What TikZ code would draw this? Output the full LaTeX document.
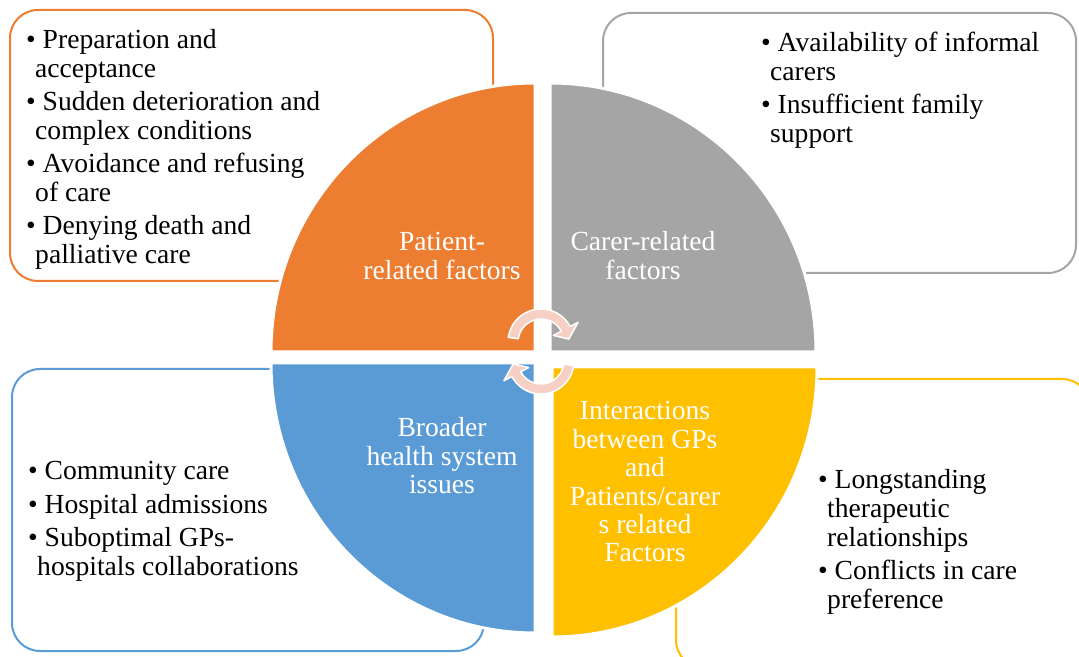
\documentclass[tikz,border=0pt]{standalone}
\usepackage{fontspec}
\setmainfont{Liberation Serif}

\definecolor{cOrange}{HTML}{ED7D31}
\definecolor{cGray}{HTML}{A5A5A5}
\definecolor{cBlue}{HTML}{5B9BD5}
\definecolor{cYellow}{HTML}{FFC000}
\definecolor{cArrow}{HTML}{F6D0C4}

% bullet hanging to the left of the list margin
\newcommand{\itembullet}{\hspace*{-9pt}\textbullet\ }

\tikzset{
  infobox/.style={line width=2pt, rounded corners=28pt},
  quarter/.style={draw=white, line width=3pt},
  cyclearrow/.style={fill=cArrow, draw=white, line width=1.5pt, line join=round},
  lbl/.style={anchor=base, inner sep=0pt, text=white,
              font=\fontsize{27.6}{28.4}\selectfont},
  lst/.style={anchor=base west, inner sep=0pt, text=black,
              font=\fontsize{27.6}{29}\selectfont}
}

\begin{document}
\begin{tikzpicture}[x=1pt, y=1pt]
\useasboundingbox (0,0) rectangle (1079,656);
\clip (0,0) rectangle (1079,656);

% outlined boxes behind the quarters
\draw[infobox, draw=cOrange] (10,375) rectangle (493,646);
\draw[infobox, draw=cGray]   (603,383) rectangle (1076,643);
\draw[infobox, draw=cBlue]   (12,5) rectangle (484,287);
\draw[infobox, draw=cYellow] (676,-12) rectangle (1090,277);

% the four quarter discs
\filldraw[quarter, fill=cOrange] (535,304) -- (271,304)
  arc[start angle=180, end angle=90, x radius=264pt, y radius=269pt] -- cycle;
\filldraw[quarter, fill=cGray] (550,304) -- (550,573)
  arc[start angle=90, end angle=0, x radius=266pt, y radius=269pt] -- cycle;
\filldraw[quarter, fill=cBlue] (535,293) -- (271,293)
  arc[start angle=180, end angle=270, x radius=264pt, y radius=270pt] -- cycle;
\filldraw[quarter, fill=cYellow] (552,289) -- (817,289)
  arc[start angle=0, end angle=-90, x radius=265pt, y radius=270pt] -- cycle;

% circular arrows in the middle
\begin{scope}[shift={(541,314)}]
  \filldraw[cyclearrow] (172:33pt)
    arc[start angle=172, end angle=28, radius=33pt] -- (28:42pt) -- (6:28pt)
    -- (28:14pt) -- (28:23pt)
    arc[start angle=28, end angle=172, radius=23pt] -- cycle;
\end{scope}
\begin{scope}[shift={(541,295)}]
  \filldraw[cyclearrow] (-8:33pt)
    arc[start angle=-8, end angle=-152, radius=33pt] -- (-152:42pt) -- (-174:28pt)
    -- (-152:14pt) -- (-152:23pt)
    arc[start angle=-152, end angle=-8, radius=23pt] -- cycle;
\end{scope}

% quarter labels
\node[lbl] (patient) at (442,405) {\parbox[t]{240pt}{\centering Patient-\\related factors}};
\node[lbl] (carer) at (643,405) {\parbox[t]{240pt}{\centering Carer-related\\factors}};
\node[lbl] (health) at (442,219) {\parbox[t]{240pt}{\centering Broader\\health system\\issues}};
\node[lbl] (interact) at (645,236) {\parbox[t]{240pt}{\centering Interactions\\between GPs\\and\\Patients/carer\\s related\\Factors}};

% bullet lists
\node[lst] (patlist) at (35,607) {\parbox[t]{440pt}{\raggedright
  \itembullet Preparation and\\ acceptance\\[4pt]
  \itembullet Sudden deterioration and\\ complex conditions\\[4pt]
  \itembullet Avoidance and refusing\\ of care\\[4pt]
  \itembullet Denying death and\\ palliative care}};
\node[lst] (carlist) at (770,604) {\parbox[t]{300pt}{\raggedright
  \itembullet Availability of informal\\ carers\\[4pt]
  \itembullet Insufficient family\\ support}};
\node[lst] (hsylist) at (37,176) {\parbox[t]{440pt}{\raggedright
  \itembullet Community care\\[5pt]
  \itembullet Hospital admissions\\[4pt]
  \itembullet Suboptimal GPs-\\ hospitals collaborations}};
\node[lst] (intlist) at (827,167) {\parbox[t]{250pt}{\raggedright
  \itembullet Longstanding\\ therapeutic\\ relationships\\[4pt]
  \itembullet Conflicts in care\\ preference}};
\end{tikzpicture}
\end{document}
